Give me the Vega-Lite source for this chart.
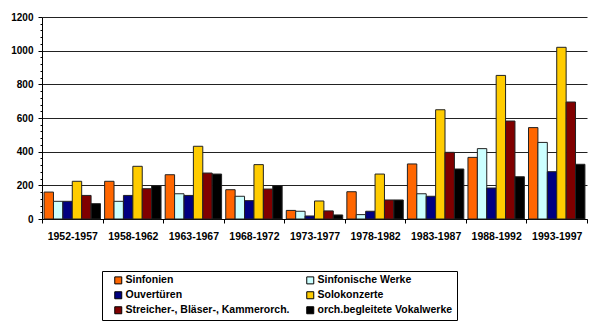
{
  "$schema": "https://vega.github.io/schema/vega-lite/v6.json",
  "autosize": {"type": "none"},
  "width": 545,
  "height": 202,
  "padding": {"left": 42, "top": 17, "right": 13, "bottom": 113},
  "background": "white",
  "data": {"values": [
    {"p": "1952-1957", "s": "Sinfonien", "v": 160},
    {"p": "1952-1957", "s": "Sinfonische Werke", "v": 105},
    {"p": "1952-1957", "s": "Ouvertüren", "v": 105},
    {"p": "1952-1957", "s": "Solokonzerte", "v": 224},
    {"p": "1952-1957", "s": "Streicher-, Bläser-, Kammerorch.", "v": 140},
    {"p": "1952-1957", "s": "orch.begleitete Vokalwerke", "v": 91},
    {"p": "1958-1962", "s": "Sinfonien", "v": 224},
    {"p": "1958-1962", "s": "Sinfonische Werke", "v": 105},
    {"p": "1958-1962", "s": "Ouvertüren", "v": 140},
    {"p": "1958-1962", "s": "Solokonzerte", "v": 313},
    {"p": "1958-1962", "s": "Streicher-, Bläser-, Kammerorch.", "v": 180},
    {"p": "1958-1962", "s": "orch.begleitete Vokalwerke", "v": 198},
    {"p": "1963-1967", "s": "Sinfonien", "v": 263},
    {"p": "1963-1967", "s": "Sinfonische Werke", "v": 150},
    {"p": "1963-1967", "s": "Ouvertüren", "v": 140},
    {"p": "1963-1967", "s": "Solokonzerte", "v": 432},
    {"p": "1963-1967", "s": "Streicher-, Bläser-, Kammerorch.", "v": 273},
    {"p": "1963-1967", "s": "orch.begleitete Vokalwerke", "v": 267},
    {"p": "1968-1972", "s": "Sinfonien", "v": 174},
    {"p": "1968-1972", "s": "Sinfonische Werke", "v": 135},
    {"p": "1968-1972", "s": "Ouvertüren", "v": 109},
    {"p": "1968-1972", "s": "Solokonzerte", "v": 323},
    {"p": "1968-1972", "s": "Streicher-, Bläser-, Kammerorch.", "v": 178},
    {"p": "1968-1972", "s": "orch.begleitete Vokalwerke", "v": 198},
    {"p": "1973-1977", "s": "Sinfonien", "v": 51},
    {"p": "1973-1977", "s": "Sinfonische Werke", "v": 46},
    {"p": "1973-1977", "s": "Ouvertüren", "v": 18},
    {"p": "1973-1977", "s": "Solokonzerte", "v": 107},
    {"p": "1973-1977", "s": "Streicher-, Bläser-, Kammerorch.", "v": 48},
    {"p": "1973-1977", "s": "orch.begleitete Vokalwerke", "v": 24},
    {"p": "1978-1982", "s": "Sinfonien", "v": 162},
    {"p": "1978-1982", "s": "Sinfonische Werke", "v": 26},
    {"p": "1978-1982", "s": "Ouvertüren", "v": 46},
    {"p": "1978-1982", "s": "Solokonzerte", "v": 267},
    {"p": "1978-1982", "s": "Streicher-, Bläser-, Kammerorch.", "v": 113},
    {"p": "1978-1982", "s": "orch.begleitete Vokalwerke", "v": 113},
    {"p": "1983-1987", "s": "Sinfonien", "v": 327},
    {"p": "1983-1987", "s": "Sinfonische Werke", "v": 150},
    {"p": "1983-1987", "s": "Ouvertüren", "v": 135},
    {"p": "1983-1987", "s": "Solokonzerte", "v": 649},
    {"p": "1983-1987", "s": "Streicher-, Bläser-, Kammerorch.", "v": 396},
    {"p": "1983-1987", "s": "orch.begleitete Vokalwerke", "v": 297},
    {"p": "1988-1992", "s": "Sinfonien", "v": 366},
    {"p": "1988-1992", "s": "Sinfonische Werke", "v": 418},
    {"p": "1988-1992", "s": "Ouvertüren", "v": 184},
    {"p": "1988-1992", "s": "Solokonzerte", "v": 853},
    {"p": "1988-1992", "s": "Streicher-, Bläser-, Kammerorch.", "v": 582},
    {"p": "1988-1992", "s": "orch.begleitete Vokalwerke", "v": 251},
    {"p": "1993-1997", "s": "Sinfonien", "v": 543},
    {"p": "1993-1997", "s": "Sinfonische Werke", "v": 455},
    {"p": "1993-1997", "s": "Ouvertüren", "v": 281},
    {"p": "1993-1997", "s": "Solokonzerte", "v": 1020},
    {"p": "1993-1997", "s": "Streicher-, Bläser-, Kammerorch.", "v": 695},
    {"p": "1993-1997", "s": "orch.begleitete Vokalwerke", "v": 325}
  ]},
  "config": {
    "font": "Liberation Sans",
    "view": {"stroke": null}
  },
  "encoding": {
    "x": {
      "field": "p", "type": "nominal", "sort": null,
      "scale": {"paddingInner": 0, "paddingOuter": 0},
      "axis": {
        "title": null, "labelAngle": 0, "tickBand": "extent",
        "labelFont": "Liberation Sans", "labelFontWeight": "bold", "labelFontSize": 10.5, "labelColor": "black",
        "tickColor": "black", "tickSize": 4, "domainColor": "black", "labelPadding": 8, "grid": false
      }
    },
    "xOffset": {
      "field": "s", "type": "nominal", "sort": null,
      "scale": {"paddingInner": 0, "paddingOuter": 0.22}
    },
    "color": {
      "field": "s", "type": "nominal",
      "scale": {
        "domain": ["Sinfonien", "Sinfonische Werke", "Ouvertüren", "Solokonzerte", "Streicher-, Bläser-, Kammerorch.", "orch.begleitete Vokalwerke"],
        "range": ["#FF6600", "#CCFFFF", "#000080", "#FFCC00", "#800000", "#000000"]
      }
    }
  },
  "layer": [
    {
      "mark": {"type": "bar", "stroke": "#222", "strokeWidth": 1},
      "encoding": {
        "y": {
          "field": "v", "type": "quantitative",
          "scale": {"domain": [0, 1200], "nice": false},
          "axis": {
            "title": null, "values": [0, 200, 400, 600, 800, 1000, 1200], "format": "d",
            "labelFont": "Liberation Sans", "labelFontWeight": "bold", "labelFontSize": 10, "labelColor": "black",
            "tickColor": "black", "tickSize": 4, "domainColor": "black", "labelPadding": 5,
            "grid": true, "gridColor": "#222", "gridOpacity": 1, "gridWidth": 1
          }
        },
        "color": {
          "field": "s", "type": "nominal",
          "legend": {
            "title": null, "orient": "none", "legendX": 60, "legendY": 254, "direction": "horizontal",
            "columns": 2, "gridAlign": "all", "columnPadding": 8, "rowPadding": 3,
            "padding": 4, "strokeColor": "black", "symbolType": "square", "symbolSize": 49,
            "symbolStrokeColor": "black", "symbolStrokeWidth": 1, "symbolOffset": 7,
            "labelFont": "Liberation Sans", "labelFontWeight": "bold", "labelFontSize": 10.5, "labelColor": "black",
            "labelOffset": 2, "labelLimit": 300
          }
        }
      }
    },
    {
      "mark": {"type": "bar", "opacity": 0},
      "encoding": {
        "y": {
          "field": "v", "type": "quantitative",
          "scale": {"domain": [0, 1200], "nice": false},
          "axis": {
            "orient": "left", "title": null, "labels": false, "domain": false, "grid": false,
            "values": [40, 80, 120, 160, 240, 280, 320, 360, 440, 480, 520, 560, 640, 680, 720, 760, 840, 880, 920, 960, 1040, 1080, 1120, 1160],
            "tickColor": "black", "tickSize": 2
          }
        },
        "color": {"field": "s", "type": "nominal", "legend": null}
      }
    }
  ],
  "resolve": {"axis": {"y": "independent"}}
}
